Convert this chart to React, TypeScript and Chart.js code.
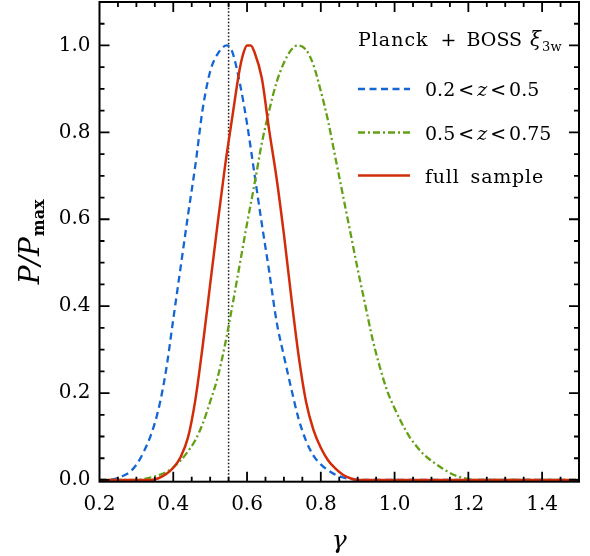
import React, { useEffect, useRef } from "react";
import { Chart, registerables } from "chart.js";

Chart.register(...registerables);

// ---------- data ----------
const blueX = [0.2, 0.22, 0.24, 0.26, 0.28, 0.3, 0.32, 0.34, 0.36, 0.38, 0.4, 0.42, 0.44, 0.46, 0.48, 0.5, 0.52, 0.545, 0.56, 0.58, 0.6, 0.62, 0.64, 0.66, 0.68, 0.7, 0.72, 0.74, 0.76, 0.78, 0.8, 0.82, 0.84, 0.86, 0.88, 0.9, 1.5];
const blueY = [0, 0, 0.002, 0.008, 0.017, 0.035, 0.065, 0.105, 0.163, 0.25, 0.37, 0.49, 0.61, 0.725, 0.855, 0.94, 0.98, 1.0, 0.985, 0.915, 0.82, 0.705, 0.59, 0.48, 0.365, 0.285, 0.21, 0.14, 0.09, 0.056, 0.036, 0.022, 0.012, 0.006, 0.002, 0, 0];

const greenX = [0.2, 0.3, 0.32, 0.34, 0.36, 0.38, 0.4, 0.42, 0.44, 0.46, 0.48, 0.5, 0.52, 0.54, 0.56, 0.58, 0.6, 0.62, 0.64, 0.66, 0.68, 0.7, 0.72, 0.737, 0.76, 0.78, 0.8, 0.82, 0.84, 0.86, 0.88, 0.9, 0.92, 0.94, 0.96, 0.98, 1.0, 1.02, 1.04, 1.06, 1.08, 1.1, 1.12, 1.14, 1.16, 1.18, 1.2, 1.22, 1.5];
const greenY = [0, 0, 0.002, 0.006, 0.011, 0.018, 0.029, 0.045, 0.066, 0.092, 0.13, 0.18, 0.235, 0.31, 0.4, 0.495, 0.59, 0.68, 0.775, 0.85, 0.915, 0.96, 0.99, 1.0, 0.99, 0.955, 0.895, 0.825, 0.74, 0.655, 0.57, 0.485, 0.405, 0.325, 0.26, 0.205, 0.165, 0.13, 0.1, 0.077, 0.058, 0.044, 0.032, 0.021, 0.012, 0.006, 0.002, 0, 0];

const redX = [0.2, 0.34, 0.36, 0.38, 0.4, 0.42, 0.44, 0.46, 0.48, 0.5, 0.52, 0.54, 0.56, 0.58, 0.59, 0.6, 0.61, 0.62, 0.64, 0.66, 0.68, 0.7, 0.72, 0.74, 0.76, 0.78, 0.8, 0.82, 0.84, 0.86, 0.88, 0.9, 1.5];
const redY = [0, 0, 0.004, 0.013, 0.028, 0.053, 0.098, 0.185, 0.31, 0.45, 0.588, 0.72, 0.835, 0.945, 0.982, 1.0, 1.0, 0.985, 0.925, 0.805, 0.695, 0.565, 0.42, 0.285, 0.18, 0.115, 0.074, 0.045, 0.026, 0.012, 0.004, 0, 0];

const gammaGR = 0.55;

const xTicks = [0.2, 0.4, 0.6, 0.8, 1.0, 1.2, 1.4];
const yTicks = [0.0, 0.2, 0.4, 0.6, 0.8, 1.0];
const xRange = [0.2, 1.5];
const yRange = [-0.004, 1.1];
const minorStep = 0.05;

const seriesNames = ["0.2 < z < 0.5", "0.5 < z < 0.75", "full sample"];
const legendTitleWords = ["Planck", "+", "BOSS"];

// ---------- styles ----------
const BLUE = "#1466d4";
const GREEN = "#62a014";
const RED = "#d22c08";
const SERIF = "'DejaVu Serif', serif";

function pts(xs: number[], ys: number[]) {
  return xs.map((x, i) => ({ x, y: ys[i] }));
}

type Part = { t: string; font: string; dy?: number; gap?: number; ls?: string };

function drawParts(ctx: CanvasRenderingContext2D, x: number, y: number, parts: Part[]) {
  let cx = x;
  for (const p of parts) {
    ctx.font = p.font;
    (ctx as any).letterSpacing = p.ls || "0px";
    ctx.fillText(p.t, cx, y + (p.dy || 0));
    cx += ctx.measureText(p.t).width + (p.gap || 0);
  }
  (ctx as any).letterSpacing = "0px";
  return cx;
}

const decorPlugin = {
  id: "decor",
  afterDraw(chart: any) {
    const { ctx, chartArea: a, scales } = chart;
    const xs = scales.x;
    const ys = scales.y;
    ctx.save();
    // frame
    ctx.strokeStyle = "#000";
    ctx.lineWidth = 2;
    ctx.strokeRect(a.left, a.top, a.right - a.left, a.bottom - a.top);
    // inward ticks
    ctx.lineWidth = 1.8;
    const isMajor = (arr: number[], v: number) => arr.some((t) => Math.abs(t - v) < 1e-6);
    const nx = Math.round((xRange[1] - xRange[0]) / minorStep);
    for (let i = 1; i < nx; i++) {
      const v = xRange[0] + i * minorStep;
      const len = isMajor(xTicks, v) ? 10 : 5;
      const px = xs.getPixelForValue(v);
      ctx.beginPath();
      ctx.moveTo(px, a.bottom);
      ctx.lineTo(px, a.bottom - len);
      ctx.moveTo(px, a.top);
      ctx.lineTo(px, a.top + len);
      ctx.stroke();
    }
    for (let i = 0; i * minorStep < yRange[1] - 1e-9; i++) {
      const v = i * minorStep;
      const len = isMajor(yTicks, v) ? 10 : 5;
      const py = ys.getPixelForValue(v);
      ctx.beginPath();
      ctx.moveTo(a.left, py);
      ctx.lineTo(a.left + len, py);
      ctx.moveTo(a.right, py);
      ctx.lineTo(a.right - len, py);
      ctx.stroke();
    }

    ctx.fillStyle = "#000";
    ctx.textBaseline = "alphabetic";
    ctx.textAlign = "left";

    // x title
    ctx.font = `italic 25px ${SERIF}`;
    const gw = ctx.measureText("\u03B3").width;
    ctx.fillText("\u03B3", (a.left + a.right) / 2 - gw / 2, 548);

    // y title
    ctx.save();
    ctx.translate(39, (a.top + a.bottom) / 2);
    ctx.rotate(-Math.PI / 2);
    const fP = `italic 28px ${SERIF}`;
    const fM = `bold 16px ${SERIF}`;
    ctx.font = fP;
    const w1 = ctx.measureText("P/P").width;
    ctx.font = fM;
    const w2 = ctx.measureText("max").width;
    drawParts(ctx, -(w1 + w2 + 1) / 2, 0, [
      { t: "P/P", font: fP, gap: 1 },
      { t: "max", font: fM, dy: 5 },
    ]);
    ctx.restore();

    // legend
    const lx0 = 358;
    const lx1 = 410;
    const tx = 425;
    const f = `19px ${SERIF}`;
    const fi = `italic 19px ${SERIF}`;
    ctx.fillStyle = "#000";
    const after = drawParts(ctx, lx0, 46, [
      { t: legendTitleWords[0], font: f, gap: 12, ls: "1px" },
      { t: legendTitleWords[1], font: f, gap: 10 },
      { t: legendTitleWords[2], font: f, gap: 8 },
    ]);
    drawParts(ctx, after, 46, [
      { t: "\u03BE", font: `italic 20px ${SERIF}`, gap: 1 },
      { t: "3w", font: `13px ${SERIF}`, dy: 5 },
    ]);

    const rows = [
      { y: 89, ds: chart.data.datasets[2] },
      { y: 132.5, ds: chart.data.datasets[1] },
      { y: 175.5, ds: chart.data.datasets[0] },
    ];
    rows.forEach((r, i) => {
      ctx.save();
      ctx.strokeStyle = r.ds.borderColor;
      ctx.lineWidth = r.ds.borderWidth;
      ctx.setLineDash(r.ds.borderDash || []);
      ctx.beginPath();
      ctx.moveTo(lx0, r.y);
      ctx.lineTo(lx1, r.y);
      ctx.stroke();
      ctx.restore();
      const name = seriesNames[i];
      const by = r.y + 7;
      if (name.includes("<")) {
        const [lo, , , , hi] = name.split(" ");
        drawParts(ctx, tx, by, [
          { t: lo, font: f, gap: 3 },
          { t: "<", font: f, gap: 3 },
          { t: "z", font: fi, gap: 3 },
          { t: "<", font: f, gap: 3 },
          { t: hi, font: f },
        ]);
      } else {
        const [w1n, w2n] = name.split(" ");
        drawParts(ctx, tx, by, [
          { t: w1n, font: f, gap: 11, ls: "0.8px" },
          { t: w2n, font: f, ls: "0.8px" },
        ]);
      }
    });
    ctx.restore();
  },
};

export default function App() {
  const ref = useRef<HTMLCanvasElement | null>(null);
  useEffect(() => {
    if (!ref.current) return;
    const common = { pointRadius: 0, cubicInterpolationMode: "monotone" };
    const chart = new Chart(ref.current, {
      type: "line",
      data: {
        datasets: [
          {
            label: seriesNames[2],
            data: pts(redX, redY),
            borderColor: RED,
            borderWidth: 2.5,
            ...common,
          },
          {
            label: seriesNames[1],
            data: pts(greenX, greenY),
            borderColor: GREEN,
            borderWidth: 2.3,
            borderDash: [7, 3, 2, 3],
            ...common,
          },
          {
            label: seriesNames[0],
            data: pts(blueX, blueY),
            borderColor: BLUE,
            borderWidth: 2.3,
            borderDash: [7, 4.5],
            ...common,
          },
          {
            label: "gamma GR",
            data: [
              { x: gammaGR, y: yRange[0] },
              { x: gammaGR, y: yRange[1] },
            ],
            borderColor: "#111",
            borderWidth: 1.5,
            borderDash: [1.5, 2],
            pointRadius: 0,
          },
        ],
      },
      options: {
        animation: false,
        responsive: false,
        devicePixelRatio: 1,
        layout: { padding: { top: 2, right: 11, left: 0, bottom: 0 } },
        plugins: { legend: { display: false }, tooltip: { enabled: false } },
        scales: {
          x: {
            type: "linear",
            min: xRange[0],
            max: xRange[1],
            grid: { display: false, drawTicks: false },
            border: { display: false },
            afterBuildTicks: (s: any) => {
              s.ticks = xTicks.map((v) => ({ value: v }));
            },
            afterFit: (s: any) => {
              s.height = 74.3;
              s.paddingLeft = 0;
              s.paddingRight = 0;
            },
            ticks: {
              autoSkip: false,
              maxRotation: 0,
              padding: 11,
              color: "#000",
              font: { family: SERIF, size: 20 },
              callback: (v: any) => Number(v).toFixed(1),
            },
          },
          y: {
            type: "linear",
            min: yRange[0],
            max: yRange[1],
            grid: { display: false, drawTicks: false },
            border: { display: false },
            afterBuildTicks: (s: any) => {
              s.ticks = yTicks.map((v) => ({ value: v }));
            },
            afterFit: (s: any) => {
              s.width = 99.5;
              s.paddingTop = 0;
              s.paddingBottom = 0;
            },
            ticks: {
              autoSkip: false,
              padding: 9,
              color: "#000",
              font: { family: SERIF, size: 20 },
              callback: (v: any) => Number(v).toFixed(1),
            },
          },
        },
      },
      plugins: [decorPlugin],
    } as any);
    return () => chart.destroy();
  }, []);
  return (
    <div style={{ position: "absolute", left: 0, top: 0, width: 590, height: 556 }}>
      <canvas ref={ref} width={590} height={556} style={{ width: 590, height: 556 }} />
    </div>
  );
}
